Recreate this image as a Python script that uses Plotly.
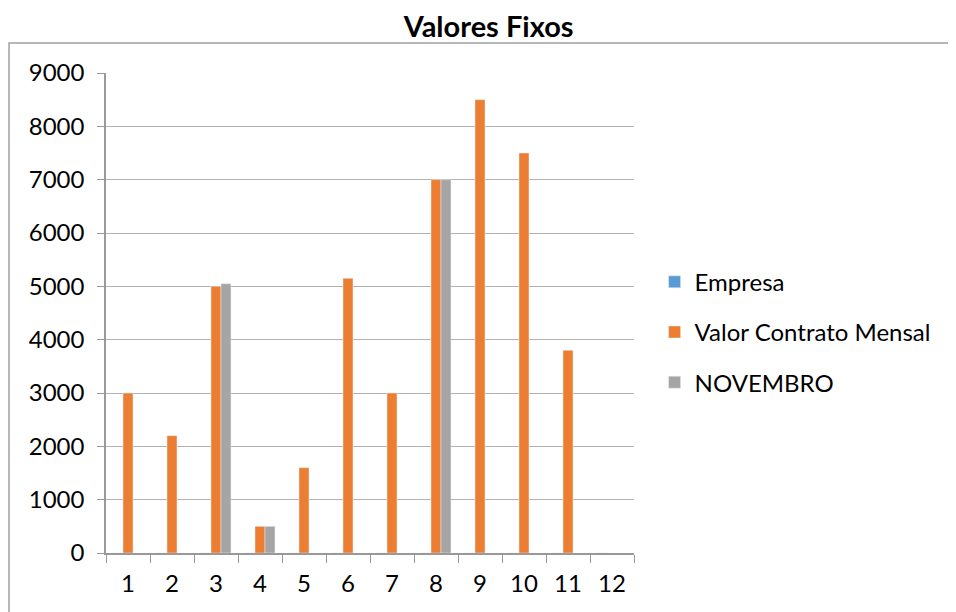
import plotly.graph_objects as go

categories = ["1", "2", "3", "4", "5", "6", "7", "8", "9", "10", "11", "12"]
empresa = [0, 0, 0, 0, 0, 0, 0, 0, 0, 0, 0, 0]
valor_contrato = [3000, 2200, 5000, 500, 1600, 5150, 3000, 7000, 8500, 7500, 3800, None]
novembro = [None, None, 5050, 500, None, None, None, 7000, None, None, None, None]
y_ticks = [0, 1000, 2000, 3000, 4000, 5000, 6000, 7000, 8000, 9000]

FONT = "Lato"

fig = go.Figure()
fig.add_bar(x=categories, y=empresa, name="Empresa", marker_color="#5B9BD5", legendgroup="a")
fig.add_bar(x=categories, y=valor_contrato, name="Valor Contrato Mensal", marker_color="#ED7D31", legendgroup="b")
fig.add_bar(x=categories, y=novembro, name="NOVEMBRO", marker_color="#A5A5A5", legendgroup="c")

fig.update_layout(
    width=948, height=604,
    margin=dict(l=98, r=322, t=65, b=59),
    paper_bgcolor="white", plot_bgcolor="white",
    barmode="group", bargap=0.32, bargroupgap=0,
    font=dict(family=FONT, size=24, color="#000000"),
    title=dict(text="<b>Valores Fixos</b>", x=0.507, xanchor="center", y=0.968, yanchor="middle",
               font=dict(family=FONT, size=29, color="#000000")),
    legend=dict(x=1.039, xanchor="left", y=0.46, yanchor="middle", traceorder="grouped",
                tracegroupgap=16, font=dict(family=FONT, size=24), bgcolor="rgba(0,0,0,0)"),
    xaxis=dict(type="category", showline=True, linecolor="#999999", linewidth=1.5,
               ticks="outside", tickson="boundaries", ticklen=8, tickcolor="#999999",
               showgrid=False, tickfont=dict(size=24), ticklabelstandoff=8),
    yaxis=dict(range=[0, 9000], tickvals=y_ticks, showline=True, linecolor="#999999", linewidth=1.5,
               ticks="outside", ticklen=7, tickcolor="#999999", showgrid=True, gridcolor="#b3b3b3",
               gridwidth=1.2, zeroline=False, tickfont=dict(size=24), ticklabelstandoff=8),
    shapes=[dict(type="rect", xref="paper", yref="paper", x0=-0.1837, y0=1.0625, x1=2, y1=-1,
                 line=dict(color="#a0a0a0", width=1.5), fillcolor="rgba(0,0,0,0)", layer="below")],
)

fig.write_html("out.html")
